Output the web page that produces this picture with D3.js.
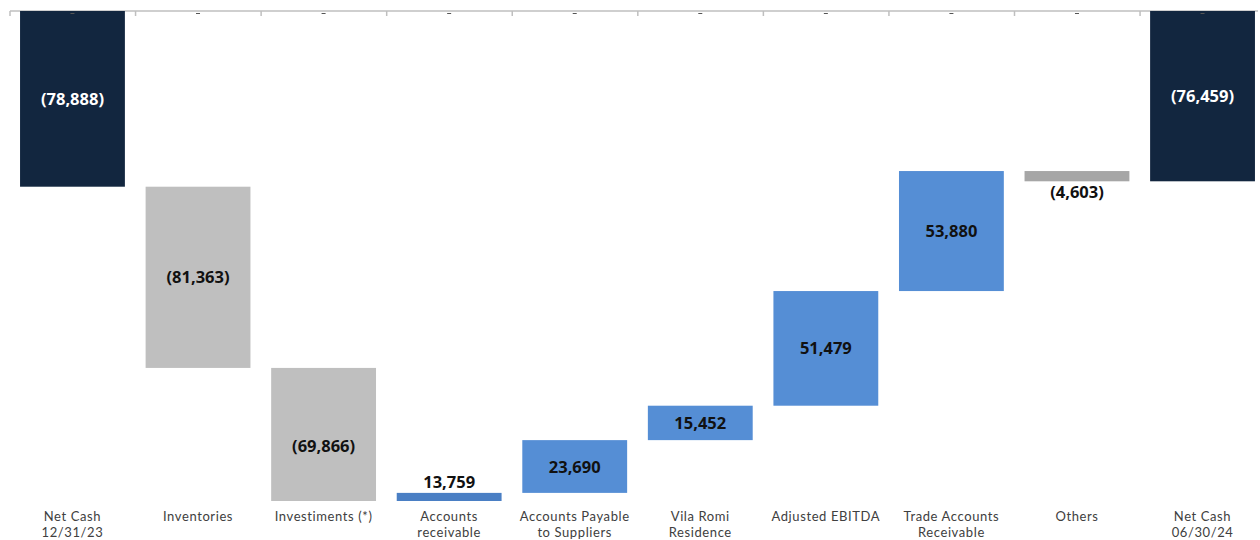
<!DOCTYPE html>
<html>
<head>
<meta charset="utf-8">
<script src="https://cdn.jsdelivr.net/npm/d3@7"></script>
<style>
  body { margin: 0; background: #fff; }
  svg { display: block; }
</style>
</head>
<body>
<svg id="chart" width="1260" height="540"></svg>
<script>
// categories (line breaks as in the original labels)
const categories = [
    'Net Cash|12/31/23', 'Inventories', 'Investiments (*)', 'Accounts|receivable',
    'Accounts Payable|to Suppliers', 'Vila Romi|Residence', 'Adjusted EBITDA',
    'Trade Accounts|Receivable', 'Others', 'Net Cash|06/30/24'
]
// variation in R$ thousand
const values = [-78888, -81363, -69866, 13759, 23690, 15452, 51479, 53880, -4603, -76459]
// kind of bar: total, negative step, positive step
const kinds = ['total', 'neg', 'neg', 'pos', 'pos', 'pos', 'pos', 'pos', 'others', 'total']
const labels = ['(78,888)', '(81,363)', '(69,866)', '13,759', '23,690', '15,452', '51,479', '53,880', '(4,603)', '(76,459)']
const yDomain = [-220000, 0]

const cores = { total: '#12263f', neg: '#bfbfbf', pos: '#558ed5', others: '#a6a6a6' }

// waterfall start/end for every step
let acc = 0
const dados = categories.map((c, i) => {
    let start, end
    if (kinds[i] == 'total') { start = 0; end = values[i]; acc = values[i] }
    else { start = acc; end = acc + values[i]; acc = end }
    return { name: c, start: start, end: end, kind: kinds[i], label: labels[i] }
})

const svg = d3.select('#chart')

const xScale = d3.scaleBand()
    .range([10, 1265])
    .domain(categories)
    .paddingInner(0.165)
    .paddingOuter(0.08)

const yScale = d3.scaleLinear()
    .range([501, 11])
    .domain(yDomain)
    .clamp(true)

// same scale without clamp, to centre labels on the full bar
const yFull = d3.scaleLinear()
    .range([501, 11])
    .domain(yDomain)

/*top axis line*/
svg.append('line')
    .attr('x1', 10).attr('x2', 1258)
    .attr('y1', yScale(0)).attr('y2', yScale(0))
    .attr('stroke', '#bfbfbf').attr('stroke-width', 1.5)

const step = xScale.step()
const ticks = d3.range(0, categories.length).map((i) => 10 + i * step)
svg.selectAll('.tick')
    .data(ticks)
    .enter()
    .append('line')
    .attr('x1', (d) => d).attr('x2', (d) => d)
    .attr('y1', yScale(0)).attr('y2', yScale(0) + 5)
    .attr('stroke', '#bfbfbf').attr('stroke-width', 1.5)

const barGroups = svg.selectAll('.bar')
    .data(dados)
    .enter()
    .append('g')

barGroups.append('rect')
    .attr('x', (g) => xScale(g.name))
    .attr('y', (g) => yScale(Math.max(g.start, g.end)))
    .attr('height', (g) => Math.abs(yScale(g.start) - yScale(g.end)))
    .attr('width', xScale.bandwidth())
    .attr('fill', (g) => g.name == 'Accounts|receivable' ? '#4a7fc4' : cores[g.kind])

/*small dash at zero for each category*/
barGroups.append('line')
    .attr('x1', (g) => xScale(g.name) + xScale.bandwidth() / 2 - 2)
    .attr('x2', (g) => xScale(g.name) + xScale.bandwidth() / 2 + 2)
    .attr('y1', yScale(0) + 2.5).attr('y2', yScale(0) + 2.5)
    .attr('stroke', '#555').attr('stroke-width', 1)

/*value labels*/
barGroups.append('text')
    .attr('x', (a) => xScale(a.name) + xScale.bandwidth() / 2)
    .attr('y', (a) => {
        const top = yScale(Math.max(a.start, a.end))
        const bot = yScale(Math.min(a.start, a.end))
        if (bot - top < 14) {
            // too thin: above for gains, below for losses
            return a.kind == 'others' ? bot + 17 : top - 5
        }
        return yFull((a.start + a.end) / 2) + 6
    })
    .attr('text-anchor', 'middle')
    .attr('font-family', "'Open Sans', sans-serif")
    .attr('font-weight', 'bold')
    .attr('font-size', 16.5)
    .attr('fill', (a) => a.kind == 'total' ? '#ffffff' : '#111111')
    .text((a) => a.label)

/*category labels, one text per line*/
const linhas = []
categories.forEach((c) => {
    c.split('|').forEach((t, i) => linhas.push({ c: c, t: t, i: i }))
})

svg.selectAll('.cat')
    .data(linhas)
    .enter()
    .append('text')
    .attr('x', (d) => xScale(d.c) + xScale.bandwidth() / 2)
    .attr('y', (d) => 521 + d.i * 16)
    .attr('text-anchor', 'middle')
    .attr('font-family', 'Lato, sans-serif')
    .attr('font-size', 13)
    .attr('letter-spacing', 0.6)
    .attr('fill', '#404040')
    .text((d) => d.t)
</script>
</body>
</html>
